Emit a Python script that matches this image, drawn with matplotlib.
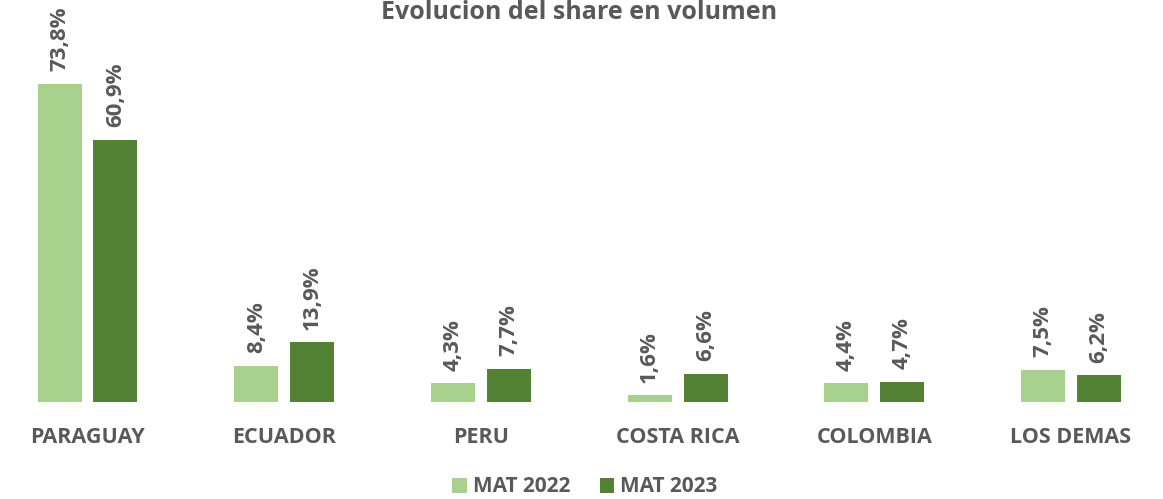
import matplotlib
matplotlib.use("Agg")
import matplotlib.pyplot as plt
import numpy as np

categories = ["PARAGUAY", "ECUADOR", "PERU", "COSTA RICA", "COLOMBIA", "LOS DEMAS"]
mat_2022 = [73.8, 8.4, 4.3, 1.6, 4.4, 7.5]
mat_2023 = [60.9, 13.9, 7.7, 6.6, 4.7, 6.2]
series_names = ["MAT 2022", "MAT 2023"]
title = "Evolucion del share en volumen"

plt.rcParams['font.family'] = ['Open Sans', 'DejaVu Sans']
gray = "#595959"
c_light = "#A9D18E"
c_dark = "#548235"

W, H = 1163, 499
fig = plt.figure(figsize=(W/100, H/100), dpi=100)
base = (H - 402) / H
ax = fig.add_axes([0, base, 1, 1 - base])
x = np.arange(len(categories))
bw = 0.224
off = 0.142
b1 = ax.bar(x - off, mat_2022, bw, color=c_light, label=series_names[0])
b2 = ax.bar(x + off, mat_2023, bw, color=c_dark, label=series_names[1])
ax.set_xlim(-87.5/196.7, (W - 87.5)/196.7)
ax.set_ylim(0, 402/4.31)

def fmt(v):
    return f"{v:.1f}%".replace(".", ",")

for bars, vals in ((b1, mat_2022), (b2, mat_2023)):
    for b, v in zip(bars, vals):
        ax.annotate(fmt(v), (b.get_x() + b.get_width()/2, b.get_height()),
                    xytext=(0, 9), textcoords="offset points",
                    rotation=90, ha="center", va="bottom",
                    fontsize=16, fontweight="bold", color=gray,
                    annotation_clip=False)

ax.set_xticks(x)
ax.set_xticklabels(categories, fontsize=15.5, fontweight="bold", color=gray)
ax.tick_params(axis="x", length=0, pad=18)
ax.set_yticks([])
for s in ax.spines.values():
    s.set_visible(False)

fig.text(0.498, 1 - 19/H, title, ha="center", va="baseline",
         fontsize=18, fontweight="bold", color=gray)

leg = fig.legend(handles=[b1, b2], labels=series_names, loc="center",
                 bbox_to_anchor=(0.503, 1 - 487/H), ncol=2, frameon=False,
                 prop={"size": 15, "weight": "bold"},
                 handlelength=0.7, handleheight=0.7, handletextpad=0.3,
                 columnspacing=1.4, labelcolor=gray)

fig.savefig("out.png", dpi=100)
